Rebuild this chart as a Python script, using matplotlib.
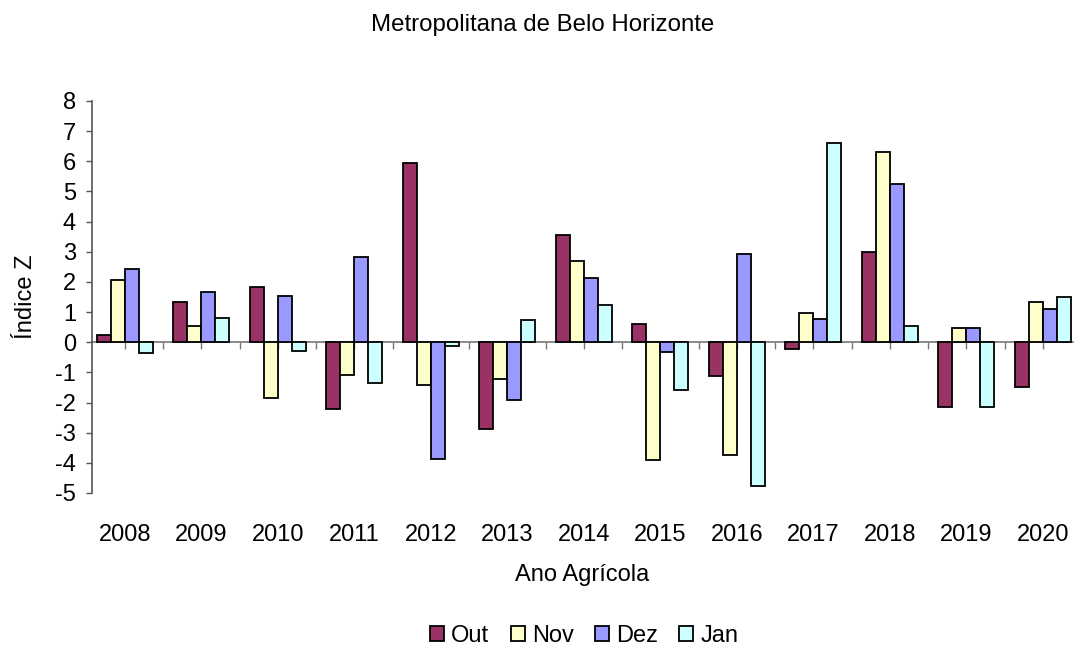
import numpy as np
import matplotlib.pyplot as plt

plt.rcParams['font.family'] = ['Liberation Sans', 'DejaVu Sans']
plt.rcParams['axes.unicode_minus'] = False

anos = ['2008', '2009', '2010', '2011', '2012', '2013', '2014',
        '2015', '2016', '2017', '2018', '2019', '2020']
out = [0.24, 1.34, 1.83, -2.21, 5.95, -2.89, 3.55, 0.61, -1.11, -0.24, 3.00, -2.15, -1.47]
nov = [2.07, 0.55, -1.85, -1.10, -1.42, -1.23, 2.69, -3.92, -3.75, 0.98, 6.30, 0.48, 1.34]
dez = [2.44, 1.65, 1.52, 2.82, -3.87, -1.91, 2.13, -0.31, 2.93, 0.77, 5.26, 0.48, 1.09]
jan = [-0.37, 0.79, -0.30, -1.36, -0.12, 0.73, 1.22, -1.60, -4.78, 6.61, 0.54, -2.15, 1.51]

series = [('Out', out, '#993366'), ('Nov', nov, '#FFFFCC'),
          ('Dez', dez, '#9999FF'), ('Jan', jan, '#CCFFFF')]

fig = plt.figure(figsize=(10.76, 6.45), dpi=100)
ax = fig.add_axes([0.0855, 0.2357, 0.9115, 0.6078])

x = np.arange(len(anos))
w = 0.183
for i, (nome, vals, cor) in enumerate(series):
    ax.bar(x + (i - 1.5) * w, vals, w, color=cor, edgecolor='black',
           linewidth=1.3, label=nome, zorder=3)

ax.set_xlim(-0.431, 12.39)
ax.set_ylim(-5, 8)
ax.set_yticks(range(-5, 9))
ax.tick_params(axis='y', labelsize=17, length=4.5, width=1, color='#555555', pad=7)

ax.set_xticks(x)
ax.set_xticklabels(anos, fontsize=17)
ax.tick_params(axis='x', length=0, pad=22)

for s in ['top', 'right', 'bottom']:
    ax.spines[s].set_visible(False)
ax.spines['left'].set_color('#555555')
ax.spines['left'].set_linewidth(1.2)

# category axis crossing at zero
zero = ax.secondary_xaxis(5 / 13)
zero.set_xticks(np.arange(0, len(anos), 0.5))
zero.set_xticklabels([])
zero.tick_params(length=5, width=1, color='#777777')
zero.spines['bottom'].set_color('#777777')
zero.spines['bottom'].set_linewidth(1.2)

ax.set_ylabel('Índice Z', fontsize=17, labelpad=13)
ax.set_xlabel('Ano Agrícola', fontsize=17, labelpad=13)
fig.text(0.504, 0.961, 'Metropolitana de Belo Horizonte', fontsize=17.3,
         ha='center', va='center')

fig.legend(loc='center', bbox_to_anchor=(0.543, 0.014), ncol=4, frameon=False,
           fontsize=17, handlelength=0.6, handleheight=0.6, handletextpad=0.3,
           columnspacing=0.9, borderpad=0.1)

fig.savefig('out.png', dpi=100)
